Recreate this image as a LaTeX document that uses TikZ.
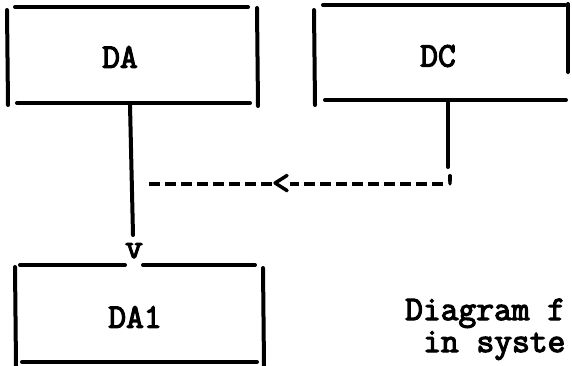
\documentclass[tikz,border=0pt]{standalone}
\usepackage{fontspec}
\setmonofont{Latin Modern Mono}[AutoFakeBold=3.5]
\begin{document}
\begin{tikzpicture}[x=1pt,y=-1pt,
  ln/.style={line width=4pt, line cap=round},
  dsh/.style={line width=4pt, dash pattern=on 11pt off 5pt},
  lbl/.style={font=\ttfamily\bfseries\fontsize{34.5}{38}\selectfont, inner sep=0pt}]
\useasboundingbox (0,0) rectangle (572,365);
\clip (0,0) rectangle (572,365);
% box DA
\draw[ln] (15,7) -- (248,7);
\draw[ln] (17,103) -- (250,103);
\draw[ln] (7,10) -- (8,105);
\draw[ln] (257,8) -- (258,106);
\node[lbl] (DA) at (120,57) {DA};
% box DC
\draw[ln] (323,5) -- (565,5);
\draw[ln] (325,100) -- (566,100);
\draw[ln] (314,10) -- (315,105);
\draw[ln] (568,4) -- (568,72);
\node[lbl] (DC) at (438,56) {DC};
% box DA1
\draw[ln] (20,265) -- (125,265);
\draw[ln] (143,265) -- (255,265);
\draw[ln] (22,362) -- (257,362);
\draw[ln] (15,267) -- (16,366);
\draw[ln] (263,268) -- (264,366);
\node[lbl] (DA1) at (135,317) {DA1};
% connector DA -> DA1
\coordinate (DAout) at (130,105);
\coordinate (DAjoin) at (133,235);
\draw[ln] (DAout) -- (DAjoin);
\node[lbl, anchor=base] (V) at (134,258) {v};
% connector DC -> join
\coordinate (DCout) at (448,102);
\coordinate (DCend) at (448,167);
\draw[ln] (DCout) -- (DCend);
\node[lbl, anchor=base] (tick) at (450,196) {'};
\node[lbl] (lt) at (281,184) {<};
\coordinate (dashR) at (443,184);
\coordinate (dashL) at (145,184);
\draw[dsh] (dashR) -- (lt.east);
\draw[dsh] (lt.west) -- (dashL);
% caption
\node[lbl, anchor=base west] (cap1) at (405,320) {Diagram f};
\node[lbl, anchor=base west] (cap2) at (423,352) {in syste};
\end{tikzpicture}
\end{document}
